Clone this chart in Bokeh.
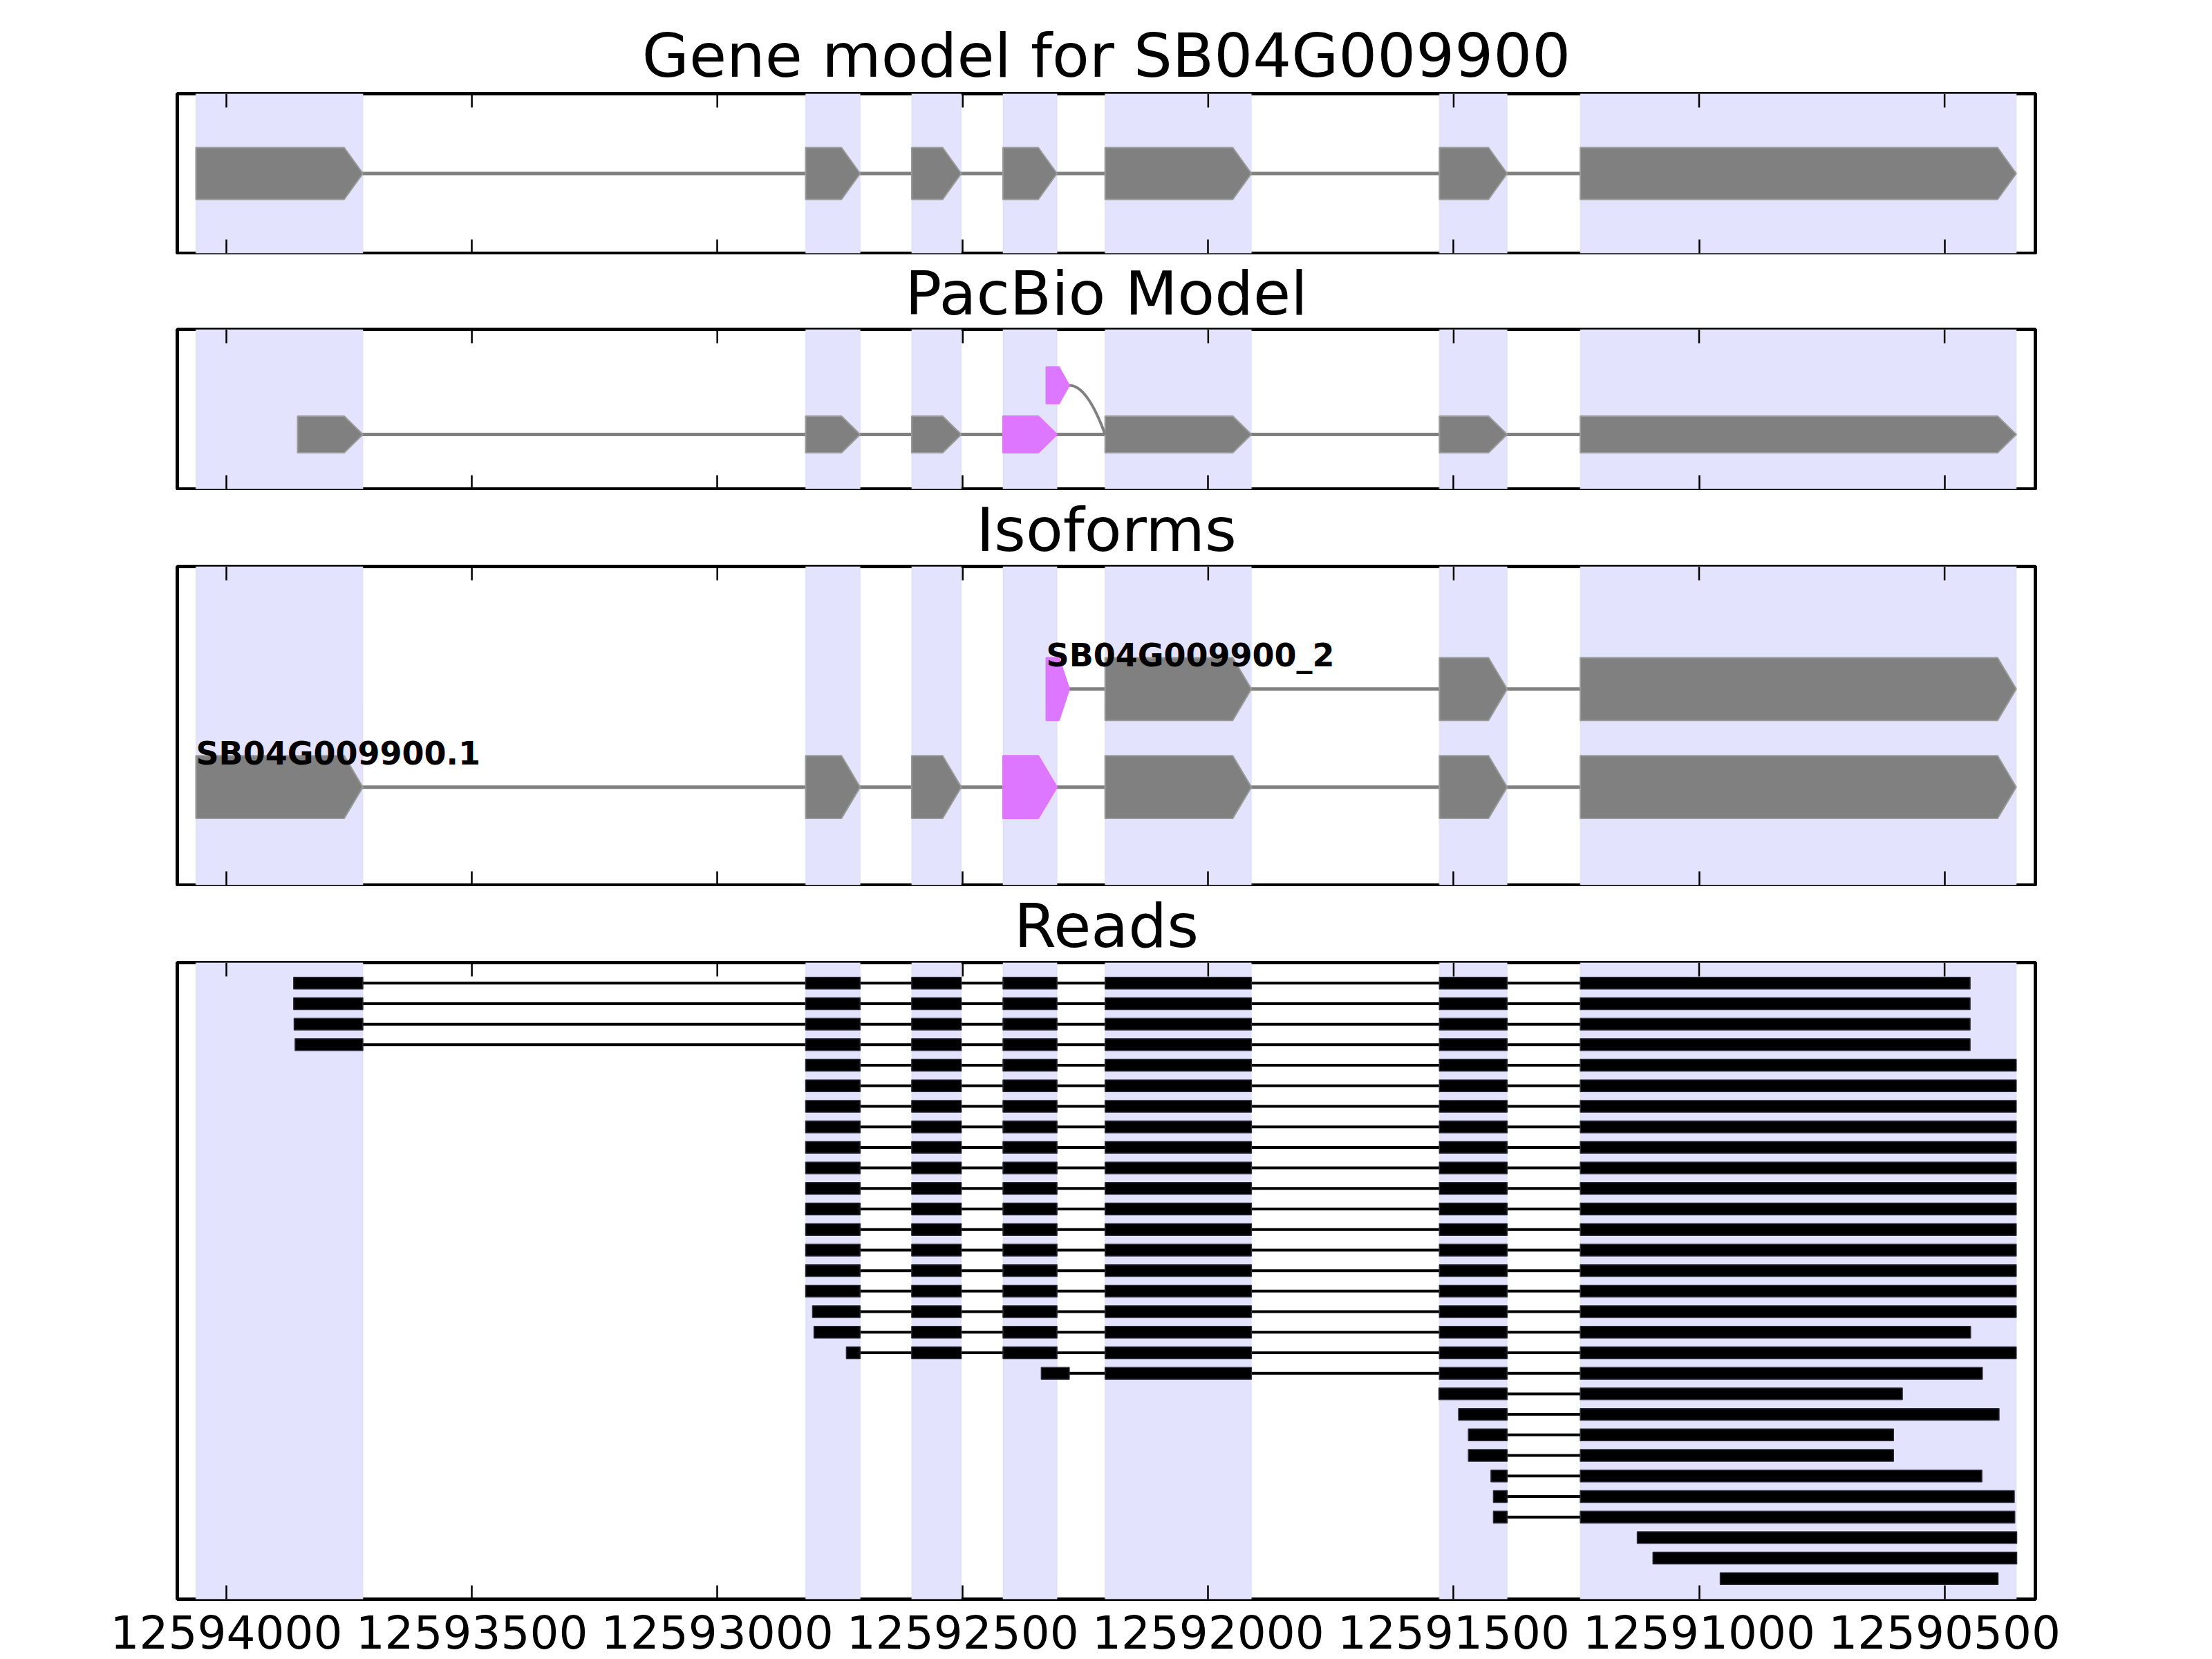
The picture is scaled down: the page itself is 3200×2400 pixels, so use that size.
from bokeh.plotting import figure
from bokeh.layouts import column
from bokeh.models import Range1d, FixedTicker, BasicTickFormatter, BoxAnnotation
from bokeh.embed import file_html
from bokeh.resources import INLINE
from bokeh.core.properties import value

# ---------------- data ----------------
x_left, x_right = 12594100, 12590315
tick_positions = [12594000, 12593500, 12593000, 12592500, 12592000, 12591500, 12591000, 12590500]

# annotated gene model exons (minus strand): high / low genomic coordinate
exon_hi = [12594062, 12592820, 12592604, 12592418, 12592210, 12591529, 12591242]
exon_lo = [12593722, 12592709, 12592503, 12592308, 12591912, 12591391, 12590354]
# alternative (novel) exon, index 7
alt_hi, alt_lo = 12592330, 12592283

# PacBio model
pacbio_start = 12593855
pacbio_exons = [0, 1, 2, 3, 4, 5, 6]
pacbio_magenta = [3]

# isoforms
iso_names = ["SB04G009900.1", "SB04G009900_2"]
iso_exons = [[0, 1, 2, 3, 4, 5, 6], [7, 4, 5, 6]]
iso_magenta = [[3], [7]]

# reads: start (high) coordinate, end (low) coordinate, exons covered
read_start = [12593863, 12593863, 12593862, 12593860,
              12592820, 12592820, 12592820, 12592820, 12592820, 12592820,
              12592820, 12592820, 12592820, 12592820, 12592820, 12592820,
              12592806, 12592803, 12592737, 12592340,
              12591530, 12591490, 12591470, 12591470, 12591424, 12591419, 12591419,
              12591126, 12591094, 12590957]
read_end = [12590448, 12590448, 12590448, 12590448,
            12590354, 12590354, 12590354, 12590354, 12590354, 12590354,
            12590354, 12590354, 12590354, 12590354, 12590354, 12590354,
            12590354, 12590447, 12590354, 12590423,
            12590586, 12590389, 12590604, 12590604, 12590424, 12590358, 12590357,
            12590353, 12590353, 12590391]
read_exons = ([[0, 1, 2, 3, 4, 5, 6]] * 4 + [[1, 2, 3, 4, 5, 6]] * 15 +
              [[7, 4, 5, 6]] + [[5, 6]] * 7 + [[6]] * 3)

# ---------------- style ----------------
GREY = "#808080"
GREY_EDGE = "#9a9a9a"
MAGENTA = "#DD77FF"
SHADE = "#E3E3FE"
SHADE_EDGE = "#D6D6EA"
FONT = "DejaVu Sans"
W = 3200
BL, BR = 256, 256
TICK_LEN = 20  # px

all_hi = exon_hi + [alt_hi]
all_lo = exon_lo + [alt_lo]


def arrow(hi, lo, y, h):
    tip = min(38.0, 0.45 * (hi - lo))
    return [hi, lo + tip, lo, lo + tip, hi], [y - h, y - h, y, y + h, y + h]


def make_fig(title, height, top, bottom, y0, y1, standoff, labels=False):
    p = figure(width=W, height=height, x_range=Range1d(x_left, x_right),
               y_range=Range1d(y0, y1), output_backend="svg", toolbar_location=None,
               min_border_left=BL, min_border_right=BR, min_border_top=top,
               min_border_bottom=bottom, title=title)
    p.title.text_font = FONT
    p.title.text_font_size = "88px"
    p.title.text_font_style = "normal"
    p.title.align = "center"
    p.title.standoff = standoff
    p.title.text_color = "black"
    p.yaxis.visible = False
    p.grid.visible = False
    p.outline_line_color = "black"
    p.outline_line_width = 5
    p.outline_line_alpha = 1.0
    ax = p.xaxis[0]
    ax.ticker = FixedTicker(ticks=tick_positions, minor_ticks=[])
    ax.formatter = BasicTickFormatter(use_scientific=False)
    ax.axis_line_color = None
    ax.major_tick_in = TICK_LEN
    ax.major_tick_out = 0
    ax.major_tick_line_width = 2.5
    ax.major_tick_line_color = "black"
    ax.minor_tick_line_color = None
    ax.major_label_text_font = FONT
    if labels:
        ax.major_label_text_color = "black"
        ax.major_label_text_font_size = "66px"
        ax.major_label_standoff = 22
    else:
        ax.major_label_text_color = None
        ax.major_label_text_font_size = "1px"
        ax.major_label_standoff = 0
    # inward ticks along the top edge of the frame
    frame_h = height - top - bottom
    d = TICK_LEN * (y1 - y0) / frame_h
    p.segment(x0=tick_positions, y0=[y1] * len(tick_positions),
              x1=tick_positions, y1=[y1 - d] * len(tick_positions),
              line_color="black", line_width=2.5)
    for hi, lo in zip(exon_hi, exon_lo):
        p.add_layout(BoxAnnotation(left=hi, right=lo, fill_color=SHADE, fill_alpha=1.0,
                                   line_color=SHADE_EDGE, line_width=2.5, level="underlay"))
    return p


def draw_model(p, exons, magenta, y, h, start=None):
    xs, ys, fills = [], [], []
    for k, e in enumerate(exons):
        hi = all_hi[e] if (start is None or k > 0) else start
        ax_, ay_ = arrow(hi, all_lo[e], y, h)
        xs.append(ax_)
        ys.append(ay_)
        fills.append(MAGENTA if e in magenta else GREY)
    first = all_hi[exons[0]] if start is None else start
    p.line([first, all_lo[exons[-1]]], [y, y], line_color=GREY, line_width=5)
    p.patches(xs=xs, ys=ys, fill_color=fills,
              line_color=[GREY_EDGE if f == GREY else MAGENTA for f in fills], line_width=2)


# ---------- panel 1: gene model ----------
p1 = make_fig("Gene model for SB04G009900", 368, 135, 2, 0, 3, 7)
draw_model(p1, [0, 1, 2, 3, 4, 5, 6], [], 1.5, 0.487)

# ---------- panel 2: PacBio ----------
p2 = make_fig("PacBio Model", 341, 108, 2, 0, 3, 2)
main_y, alt_y, h2 = 1.026, 1.948, 0.344
draw_model(p2, pacbio_exons, pacbio_magenta, main_y, h2, start=pacbio_start)
dx = alt_lo - exon_hi[4]
p2.bezier(x0=[alt_lo], y0=[alt_y], x1=[exon_hi[4]], y1=[main_y],
          cx0=[alt_lo - 0.45 * dx], cy0=[alt_y], cx1=[exon_hi[4] + 0.2 * dx],
          cy1=[main_y + 0.4 * (alt_y - main_y)], line_color=GREY, line_width=4)
ax_, ay_ = arrow(alt_hi, alt_lo, alt_y, h2)
p2.patch(ax_, ay_, fill_color=MAGENTA, line_color=MAGENTA, line_width=2)

# ---------- panel 3: isoforms ----------
p3 = make_fig("Isoforms", 573, 110, 2, 0, 3.25, 4)
iso_y = [1, 2]
for name, ex, mg, y in zip(iso_names, iso_exons, iso_magenta, iso_y):
    draw_model(p3, ex, mg, y, 0.32)
p3.text(x=[all_hi[ex[0]] for ex in iso_exons], y=[y + 0.345 for y in iso_y], text=iso_names,
        text_font=value(FONT), text_font_style="bold", text_font_size="46px",
        text_align="left", text_baseline="alphabetic", text_color="black")

# ---------- panel 4: reads ----------
p4 = make_fig("Reads", 1118, 110, 87, 31, 0, 4, labels=True)
bl, br, bt, bb = [], [], [], []
for i, (s, e, ex) in enumerate(zip(read_start, read_end, read_exons)):
    y = i + 1
    p4.line([s, e], [y, y], line_color="black", line_width=4)
    for k, idx in enumerate(ex):
        hi = s if k == 0 else all_hi[idx]
        lo = e if k == len(ex) - 1 else all_lo[idx]
        bl.append(hi)
        br.append(lo)
        bt.append(y - 0.285)
        bb.append(y + 0.285)
p4.quad(left=bl, right=br, top=bt, bottom=bb, fill_color="black", line_color="#2a2a3a", line_width=1.5)

layout = column(p1, p2, p3, p4, spacing=0)
open("out.html", "w").write(file_html(layout, INLINE))
